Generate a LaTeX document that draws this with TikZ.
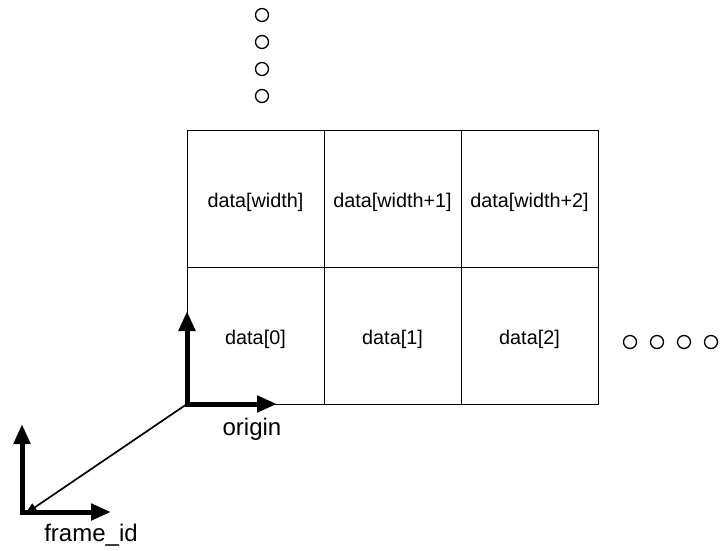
\documentclass[tikz,border=0pt]{standalone}
\usepackage{fontspec}
\setmainfont{Liberation Sans}
\usetikzlibrary{arrows.meta}
\begin{document}
\begin{tikzpicture}[x=1pt,y=-1pt,
  cell/.style={draw, line width=1pt, minimum width=137pt, minimum height=137pt, inner sep=0pt, text height=22pt, text depth=4.5pt, font=\fontsize{19.8}{23}\selectfont},
  dot/.style={draw, circle, line width=1.3pt, minimum size=13pt, inner sep=0pt},
  axis/.style={line width=5pt, -{Triangle[width=16pt,length=20pt]}},
  link/.style={line width=1.7pt, -{Triangle[width=9pt,length=12pt]}},
  lbl/.style={font=\fontsize{24}{28}\selectfont, inner sep=0pt}]
\useasboundingbox (0,0) rectangle (720,550);
% grid
\node[cell] (c10) at (255.5,198.5) {data[width]};
\node[cell] (c11) at (392.5,198.5) {data[width+1]};
\node[cell] (c12) at (529.5,198.5) {data[width+2]};
\node[cell] (c00) at (255.5,335.5) {data[0]};
\node[cell] (c01) at (392.5,335.5) {data[1]};
\node[cell] (c02) at (529.5,335.5) {data[2]};
% vertical dots
\node[dot] (v1) at (262,15) {};
\node[dot] (v2) at (262,42) {};
\node[dot] (v3) at (262,69) {};
\node[dot] (v4) at (262,96) {};
% horizontal dots
\node[dot] (h1) at (630,342) {};
\node[dot] (h2) at (657,342) {};
\node[dot] (h3) at (684,342) {};
\node[dot] (h4) at (711,342) {};
% frames
\coordinate (O) at (187,404);
\coordinate (Ox) at (277,404);
\coordinate (Oy) at (187,311);
\coordinate (F) at (22,512);
\coordinate (Fx) at (111,512);
\coordinate (Fy) at (22,424);
\draw[axis] ([yshift=2.5pt]O) -- (Oy);
\draw[axis] ([xshift=-2.5pt]O) -- (Ox);
\draw[axis] ([yshift=2.5pt]F) -- (Fy);
\draw[axis] ([xshift=-2.5pt]F) -- (Fx);
\draw[link] (O) -- ([xshift=3pt,yshift=-2pt]F);
\node[lbl] (lo) at (252,429) {origin};
\node[lbl] (lf) at (91,535) {frame\_id};
\end{tikzpicture}
\end{document}
